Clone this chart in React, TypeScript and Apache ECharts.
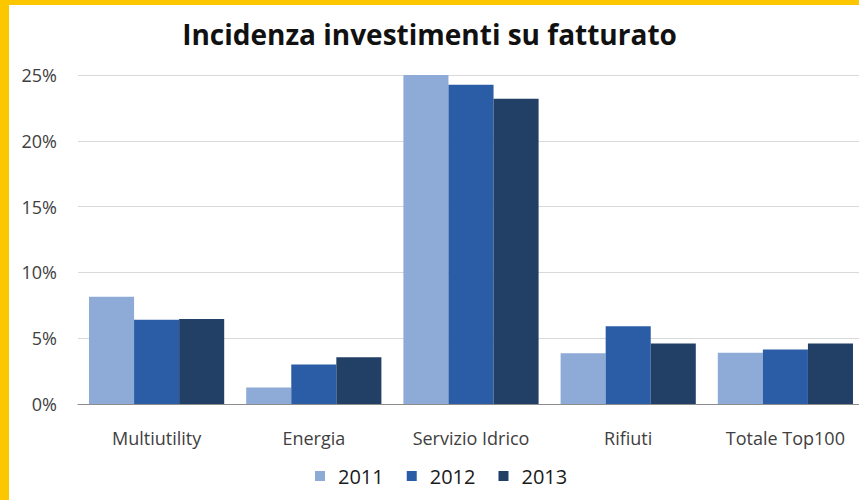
import React, { useEffect, useRef } from "react";
import * as echarts from "echarts";

const categories = ["Multiutility", "Energia", "Servizio Idrico", "Rifiuti", "Totale Top100"];
const years = ["2011", "2012", "2013"];
const values2011 = [8.15, 1.25, 25.0, 3.85, 3.9];
const values2012 = [6.4, 3.0, 24.25, 5.9, 4.15];
const values2013 = [6.45, 3.55, 23.2, 4.6, 4.6];
const yearColors = ["#8EAAD6", "#2A5DA5", "#223F66"];
const yTicks = [0, 5, 10, 15, 20, 25];

export default function App() {
  const ref = useRef<HTMLDivElement>(null);
  useEffect(() => {
    document.body.style.margin = "0";
    const chart = echarts.init(ref.current!, null, { renderer: "svg" });
    const seriesData = [values2011, values2012, values2013];
    chart.setOption({
      animation: false,
      backgroundColor: "#ffffff",
      textStyle: { fontFamily: "Open Sans" },
      title: {
        text: "Incidenza investimenti su fatturato",
        left: "center",
        top: 15,
        textStyle: { fontFamily: "Open Sans", fontWeight: "bold", fontSize: 28, color: "#111111" },
      },
      graphic: [
        { type: "rect", left: 0, top: 0, shape: { width: 9, height: 500 }, style: { fill: "#FDC700" }, z: 100 },
        { type: "rect", left: 0, top: 0, shape: { width: 859, height: 5 }, style: { fill: "#FDC700" }, z: 100 },
      ],
      legend: {
        data: years,
        top: 461,
        left: 310,
        itemWidth: 10,
        itemHeight: 10,
        itemGap: 23,
        icon: "rect",
        textStyle: { fontFamily: "Open Sans", fontSize: 20, color: "#1a1a1a", padding: [0, 0, 0, 8] },
      },
      grid: { left: 78, right: -5, top: 75, bottom: 96, outerBoundsMode: "none" },
      xAxis: {
        type: "category",
        data: categories,
        axisLine: { lineStyle: { color: "#8c8c8c", width: 1 } },
        axisTick: { show: false },
        axisLabel: { fontFamily: "Open Sans", fontSize: 18, color: "#404040", margin: 25 },
      },
      yAxis: {
        type: "value",
        min: yTicks[0],
        max: yTicks[yTicks.length - 1],
        interval: 5,
        axisLine: { show: false },
        axisTick: { show: false },
        splitLine: { lineStyle: { color: "#d9d9d9", width: 1 } },
        axisLabel: { fontFamily: "Open Sans", fontSize: 18, color: "#404040", margin: 21, formatter: "{value}%" },
      },
      series: years.map((y, i) => ({
        name: y,
        type: "bar",
        data: seriesData[i],
        barGap: "0%",
        barCategoryGap: "14%",
        itemStyle: { color: yearColors[i] },
      })),
    });
    return () => chart.dispose();
  }, []);
  return <div ref={ref} style={{ width: 859, height: 500, position: "absolute", left: 0, top: 0 }} />;
}
